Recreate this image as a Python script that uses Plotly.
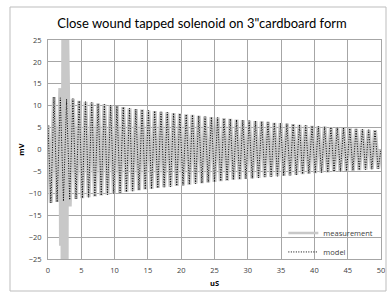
import plotly.graph_objects as go

# Model: extremes of the damped oscillation (time in uS, value in mV)
model_start = [(0.0, 5.5)]
peak_t = [0.90, 1.85, 2.79, 3.74, 4.68, 5.63, 6.57, 7.52, 8.46, 9.41, 10.35, 11.30, 12.24,
          13.19, 14.13, 15.08, 16.02, 16.97, 17.91, 18.86, 19.80, 20.75, 21.69, 22.64, 23.58,
          24.53, 25.47, 26.42, 27.36, 28.31, 29.25, 30.20, 31.14, 32.09, 33.03, 33.98, 34.92,
          35.87, 36.81, 37.76, 38.70, 39.65, 40.59, 41.54, 42.48, 43.43, 44.37, 45.32, 46.26,
          47.21, 48.15, 49.10]
peak_v = [12.0, 11.8, 11.5, 11.6, 11.1, 10.9, 10.7, 10.5, 10.3, 10.1, 9.9, 9.7, 9.4,
          9.2, 9.1, 8.9, 8.8, 8.6, 8.5, 8.3, 8.2, 8.0, 7.9, 7.7, 7.5,
          7.4, 7.3, 7.1, 7.0, 6.8, 6.7, 6.6, 6.5, 6.4, 6.3, 6.1, 6.0,
          5.9, 5.8, 5.6, 5.5, 5.4, 5.3, 5.2, 5.1, 5.0, 4.9, 4.8, 4.7,
          4.6, 4.5, 4.4]
trough_t = [0.43, 1.37, 2.32, 3.26, 4.21, 5.15, 6.10, 7.04, 7.99, 8.93, 9.88, 10.82, 11.77,
            12.71, 13.66, 14.60, 15.55, 16.49, 17.44, 18.38, 19.33, 20.27, 21.22, 22.16, 23.11,
            24.05, 25.00, 25.94, 26.89, 27.83, 28.78, 29.72, 30.67, 31.61, 32.56, 33.50, 34.45,
            35.39, 36.34, 37.28, 38.23, 39.17, 40.12, 41.06, 42.01, 42.95, 43.90, 44.84, 45.79,
            46.73, 47.68, 48.62, 49.57]
trough_v = [-12.2, -12.0, -11.8, -11.5, -11.3, -11.1, -10.9, -10.7, -10.5, -10.3, -10.1, -9.9, -9.7,
            -9.5, -9.3, -9.1, -9.0, -8.8, -8.6, -8.5, -8.3, -8.2, -8.0, -7.8, -7.7,
            -7.5, -7.4, -7.2, -7.1, -6.9, -6.8, -6.7, -6.6, -6.5, -6.3, -6.2, -6.1,
            -6.0, -5.9, -5.8, -5.6, -5.5, -5.4, -5.3, -5.2, -5.1, -5.0, -4.9, -4.8,
            -4.7, -4.6, -4.5, -4.4]
model_end = [(50.0, 0.0)]

# Measurement: follows the model except for the burst around 2-3 uS
burst_t = [1.85, 1.95, 2.10, 2.20, 2.30, 2.40, 2.50, 2.60, 2.70, 2.80, 2.85, 3.26]
burst_v = [14.0, -22.0, 14.0, -30.0, 30.0, -30.0, 30.0, -30.0, 30.0, -30.0, 30.0, -13.0]
burst_window = (1.80, 3.30)

x_ticks = [0, 5, 10, 15, 20, 25, 30, 35, 40, 45, 50]
y_ticks = [-25, -20, -15, -10, -5, 0, 5, 10, 15, 20, 25]

model_pts = sorted(model_start + list(zip(peak_t, peak_v)) + list(zip(trough_t, trough_v)) + model_end)
mx = [p[0] for p in model_pts]
my = [p[1] for p in model_pts]

meas_pts = [p for p in model_pts if not (burst_window[0] <= p[0] <= burst_window[1])]
meas_pts = sorted(meas_pts + list(zip(burst_t, burst_v)))
sx = [p[0] for p in meas_pts]
sy = [p[1] for p in meas_pts]

fig = go.Figure()
fig.add_trace(go.Scatter(x=sx, y=sy, mode="lines", name="measurement", showlegend=False,
                         legendgroup="meas", line=dict(color="#c8c8c8", width=4)))
# legend sample for measurement (thinner line as in the original legend)
fig.add_trace(go.Scatter(x=[None], y=[None], mode="lines", name="measurement",
                         legendgroup="meas", line=dict(color="#c8c8c8", width=2.5)))
fig.add_trace(go.Scatter(x=mx, y=my, mode="lines", name="model",
                         line=dict(color="#000000", width=1, dash="1px,1.5px")))

grid = "#a6a6a6"
tickfont = dict(family="Open Sans, DejaVu Sans, sans-serif", size=7.5, color="#404040")
fig.update_layout(
    width=388, height=292,
    margin=dict(l=48, r=7, t=40, b=33, autoexpand=False),
    paper_bgcolor="white", plot_bgcolor="white",
    title=dict(text='Close wound tapped solenoid on 3"cardboard form',
               x=202 / 388, xref="container", xanchor="center", y=1 - 23 / 292, yanchor="middle",
               font=dict(family="Lato, Open Sans, sans-serif", size=13, color="#000000")),
    xaxis=dict(range=[0, 50], tickvals=x_ticks, showgrid=True, gridcolor=grid, gridwidth=1,
               zeroline=False, showline=True, linecolor=grid, mirror=True, ticks="",
               tickfont=tickfont, automargin=False, ticklabelstandoff=4,
               title=dict(text="<b>uS</b>", standoff=6,
                          font=dict(family="Open Sans, sans-serif", size=7.5, color="#000"))),
    yaxis=dict(range=[-25, 25], tickvals=y_ticks, showgrid=True, gridcolor=grid, gridwidth=1,
               zeroline=True, zerolinecolor=grid, zerolinewidth=1,
               showline=True, linecolor=grid, mirror=True, ticks="",
               tickfont=tickfont, ticklabelstandoff=4, automargin=False,
               title=dict(text="<b>mV</b>", standoff=3,
                          font=dict(family="Open Sans, sans-serif", size=7.5, color="#000"))),
    legend=dict(x=0.992, xanchor="right", y=-0.034, yanchor="bottom",
                bgcolor="rgba(0,0,0,0)", borderwidth=0,
                font=dict(family="Open Sans, sans-serif", size=7.5, color="#404040"),
                tracegroupgap=0, itemwidth=30),
    showlegend=True,
)
# white legend backdrop hiding the gridlines (between gridlines and traces)
fig.add_shape(type="rect", xref="paper", yref="paper",
              x0=(307 - 48) / 333, x1=0.997, y0=0.005, y1=(259 - 225) / 219,
              line=dict(width=0), fillcolor="white", layer="between")
# outer chart border
fig.add_shape(type="rect", xref="paper", yref="paper",
              x0=(10 - 48) / 333, x1=(386 - 48) / 333,
              y0=(259 - 291) / 219, y1=(259 - 7) / 219,
              line=dict(color="#bdbdbd", width=1), layer="above")

fig.write_html("out.html", config={"displayModeBar": False},
               post_script="document.body.style.margin='0';")
